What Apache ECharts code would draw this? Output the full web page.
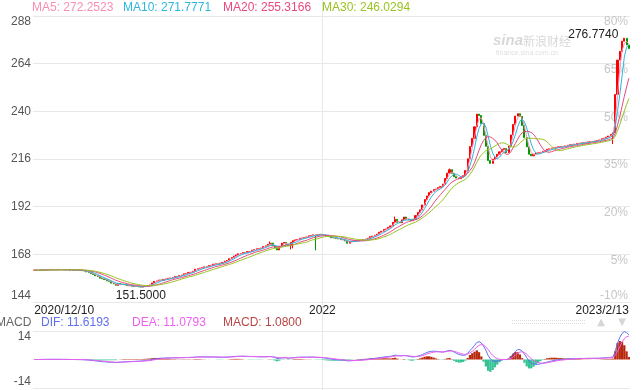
<!DOCTYPE html>
<html><head><meta charset="utf-8">
<script src="https://cdn.jsdelivr.net/npm/echarts@6/dist/echarts.min.js"></script>
<style>html,body{margin:0;padding:0;background:#fff}#c{width:643px;height:390px}</style>
</head><body><div id="c"></div>
<script>
// closing values, one per 2 trading days
const closes = [
160.0,160.1,159.9,160.2,160.1,160.3,160.2,160.4,160.2,160.3,
160.2,160.4,160.3,160.1,160.3,160.2,160.0,160.2,160.1,159.9,
160.0,159.8,159.6,159.1,158.9,158.3,157.9,157.2,156.9,156.0,
155.7,155.3,154.6,154.4,153.5,153.1,152.4,153.3,152.9,152.8,
152.6,152.2,152.3,151.9,151.8,151.9,151.6,151.5,151.9,152.0,
152.3,152.6,153.6,154.4,154.6,155.1,154.9,155.4,155.6,155.9,
156.1,156.3,156.9,156.8,157.3,157.6,158.2,158.3,158.9,159.0,
159.5,160.5,160.7,161.1,161.2,161.7,161.8,162.4,162.5,163.0,
163.2,163.1,163.6,163.9,164.6,164.9,165.8,166.4,167.1,167.7,
168.3,168.4,168.9,168.8,169.4,169.4,170.1,170.3,170.8,170.9,
171.2,171.9,172.3,173.1,173.6,172.4,171.5,170.2,172.1,173.6,
174.0,173.1,172.4,174.1,174.9,175.3,175.5,176.1,176.2,176.5,
176.7,177.3,177.5,177.8,177.4,177.9,178.1,177.8,177.5,177.2,
176.9,176.4,176.2,175.9,175.8,175.4,175.3,174.7,173.6,174.4,
174.6,174.9,174.8,175.0,175.2,175.3,175.7,176.1,176.9,177.2,
177.6,178.2,179.1,179.6,180.5,180.8,181.6,182.3,184.1,185.6,
184.1,183.9,185.4,186.8,185.7,185.3,184.9,185.6,187.5,189.1,
190.4,192.9,195.6,197.4,199.1,199.8,200.6,200.9,201.6,202.1,
203.4,206.2,208.9,210.6,208.8,207.1,206.4,206.1,206.9,207.6,
210.2,216.1,222.3,226.4,232.2,238.6,237.9,233.8,227.9,222.4,
215.2,213.8,215.9,217.0,218.4,219.6,220.8,221.3,219.2,222.5,
228.1,233.4,237.6,238.8,237.4,232.9,226.8,222.1,218.4,217.6,
218.4,218.9,219.1,219.4,219.9,220.2,220.9,221.1,221.5,221.6,
221.9,222.1,222.3,222.2,222.6,222.9,223.2,223.1,223.5,223.8,
223.9,224.1,224.0,224.4,224.6,224.8,224.7,225.1,225.3,225.6,
226.2,226.5,227.0,227.6,228.4,
229.2,248.5,265.8,270.2,275.3,276.774,273.4,271.6
];
const lowWicks = [[113,170.5],[114,171.0],[124,170.0],[255,223.5]];
const highWicks = [[104,174.5],[159,187.0],[183,211.2]];
const tickLabels = ['2020/12/10','2022','2023/2/13'];
const tickIndex = [0,127,262];
const maNames = ['MA5','MA10','MA20','MA30'];
const maValues = ['272.2523','271.7771','255.3166','246.0294'];
const maWindows = [3,5,10,15];
const macdNames = ['DIF','DEA','MACD'];
const macdValues = ['11.6193','11.0793','1.0800'];
const basePrice = 160;

const FONT = 'Liberation Sans, Arial, sans-serif';
const maColors = ['#f98fb5','#2cb6dc','#e8487c','#98c422'];
const macdColors = ['#5f6ff2','#ee5ff0','#b84545'];

const cats = closes.map((_, i) => String(i));
const candles = closes.map((c, i) => {
  const o = i ? closes[i-1] : c;
  return [o, c, Math.min(o, c), Math.max(o, c)];
});
lowWicks.forEach(([i, v]) => { candles[i][2] = v; });
highWicks.forEach(([i, v]) => { candles[i][3] = v; });

function ma(n) {
  return closes.map((_, i) => {
    const s = Math.max(0, i - n + 1);
    let t = 0; for (let k = s; k <= i; k++) t += closes[k];
    return +(t / (i - s + 1)).toFixed(3);
  });
}
function ema(arr, n) {
  const a = 2 / (n + 1); const out = []; let p = arr[0];
  arr.forEach(v => { p = p + a * (v - p); out.push(p); });
  return out;
}
const e1 = ema(closes, 6), e2 = ema(closes, 13);
const dif = closes.map((_, i) => e1[i] - e2[i]);
const dea = ema(dif, 5);
const hist = dif.map((d, i) => +(2 * (d - dea[i])).toFixed(3));

const chart = echarts.init(document.getElementById('c'), null, {renderer: 'canvas'});
const gridColor = '#e8e8e8';

const graphics = [];
const maX = [32, 123, 223, 322];
maNames.forEach((n, k) => {
  graphics.push({type: 'text', x: maX[k], y: 8, style: {text: n + ': ' + maValues[k], fill: maColors[k], font: '12px ' + FONT, verticalAlign: 'middle'}});
});
graphics.push({type: 'text', x: -4, y: 323, style: {text: 'MACD', fill: '#666', font: '12px ' + FONT, verticalAlign: 'middle'}});
const mX = [41, 132, 223];
macdNames.forEach((n, k) => {
  graphics.push({type: 'text', x: mX[k], y: 323, style: {text: n + ': ' + macdValues[k], fill: macdColors[k], font: '12px ' + FONT, verticalAlign: 'middle'}});
});
// watermark
graphics.push({type: 'text', x: 493, y: 41, style: {text: 'sina', fill: '#d8d8d8', font: 'italic bold 15px ' + FONT, verticalAlign: 'middle'}});
graphics.push({type: 'text', x: 523, y: 41, style: {text: '新浪财经', fill: '#d8d8d8', font: '12px Noto Sans CJK SC', verticalAlign: 'middle'}});
graphics.push({type: 'text', x: 496, y: 53, style: {text: 'finance.sina.com.cn', fill: '#e0e0e0', font: '7px ' + FONT, verticalAlign: 'middle'}});
// controls
graphics.push({type: 'line', shape: {x1: 512, y1: 320.5, x2: 586, y2: 320.5}, style: {stroke: '#dddddd', lineWidth: 1, lineDash: [1, 1]}});
graphics.push({type: 'line', shape: {x1: 512, y1: 323.5, x2: 586, y2: 323.5}, style: {stroke: '#dddddd', lineWidth: 1, lineDash: [1, 1]}});
graphics.push({type: 'text', x: 601, y: 322.5, style: {text: '▲', fill: '#d6d6d6', font: '10px DejaVu Sans', align: 'center', verticalAlign: 'middle'}});
graphics.push({type: 'text', x: 622, y: 322.5, style: {text: '▼', fill: '#d6d6d6', font: '10px DejaVu Sans', align: 'center', verticalAlign: 'middle'}});

const option = {
  animation: false,
  backgroundColor: '#fff',
  textStyle: {fontFamily: FONT},
  grid: [
    {left: 33, right: 13, top: 16, height: 286},
    {left: 33, right: 13, top: 331, height: 57}
  ],
  xAxis: [
    {type: 'category', gridIndex: 0, data: cats, boundaryGap: true,
     axisLine: {show: false}, axisTick: {show: false}, splitLine: {show: false},
     axisLabel: {interval: (i) => tickIndex.indexOf(i) >= 0,
       formatter: (v, i) => { const k = tickIndex.indexOf(+v); return k >= 0 ? tickLabels[k] : ''; },
       color: '#222', fontSize: 12, fontFamily: FONT, margin: 3,
       alignMinLabel: 'left', alignMaxLabel: 'right', hideOverlap: false}},
    {type: 'category', gridIndex: 1, data: cats, boundaryGap: true,
     axisLine: {show: false}, axisTick: {show: false}, axisLabel: {show: false}, splitLine: {show: false}}
  ],
  yAxis: [
    {type: 'value', gridIndex: 0, min: 144, max: 288, interval: 24, position: 'left',
     axisLine: {show: false}, axisTick: {show: false},
     splitLine: {show: true, lineStyle: {color: gridColor}},
     axisLabel: {color: '#555', fontSize: 12, fontFamily: FONT, margin: 2,
       verticalAlignMaxLabel: 'top', verticalAlignMinLabel: 'bottom'}},
    {type: 'value', gridIndex: 0, min: 144, max: 288, interval: 24, position: 'right',
     axisLine: {show: false}, axisTick: {show: false}, splitLine: {show: false},
     axisLabel: {inside: true, margin: 2, color: '#c6c6c6', fontSize: 12, fontFamily: FONT,
       formatter: (v) => Math.round((v - basePrice) / basePrice * 100) + '%',
       verticalAlign: 'top', verticalAlignMinLabel: 'bottom', verticalAlignMaxLabel: 'top'}},
    {type: 'value', gridIndex: 1, min: -14, max: 14, interval: 14,
     axisLine: {show: false}, axisTick: {show: false},
     splitLine: {show: true, lineStyle: {color: [gridColor, 'rgba(0,0,0,0)', gridColor]}},
     axisLabel: {color: '#555', fontSize: 12, fontFamily: FONT, margin: 2,
       formatter: (v) => v === 0 ? '' : String(v),
       verticalAlignMaxLabel: 'top', verticalAlignMinLabel: 'bottom'}}
  ],
  series: [
    {type: 'candlestick', name: 'K', xAxisIndex: 0, yAxisIndex: 0, data: candles, barWidth: '70%',
     itemStyle: {color: '#ff0000', color0: '#009900', borderColor: '#ff0000', borderColor0: '#009900', borderWidth: 1},
     markPoint: {symbol: 'circle', symbolSize: 0, silent: true,
       label: {show: true, color: '#222', fontSize: 12, fontFamily: FONT,
         formatter: (p) => Number(p.value).toFixed(4)},
       data: [
         {type: 'max', valueDim: 'highest', label: {position: 'left', distance: 6, offset: [0, -4]}},
         {type: 'min', valueDim: 'lowest', label: {position: 'bottom', distance: 3}}
       ]}},
    ...maWindows.map((n, k) => ({
      type: 'line', name: maNames[k], xAxisIndex: 0, yAxisIndex: 0, data: ma(n),
      symbol: 'none', smooth: false, lineStyle: {width: 1, color: maColors[k]}, itemStyle: {color: maColors[k]}
    })),
    {type: 'bar', name: 'MACD', xAxisIndex: 1, yAxisIndex: 2, data: hist, barWidth: '100%', barCategoryGap: 0,
     itemStyle: {color: (p) => p.value >= 0 ? '#b7280c' : '#33c293'}},
    {type: 'line', name: 'DIF', xAxisIndex: 1, yAxisIndex: 2, data: dif.map(v => +v.toFixed(3)), symbol: 'none',
     lineStyle: {width: 1, color: macdColors[0]}},
    {type: 'line', name: 'DEA', xAxisIndex: 1, yAxisIndex: 2, data: dea.map(v => +v.toFixed(3)), symbol: 'none',
     lineStyle: {width: 1, color: macdColors[1]}}
  ],
  graphic: graphics
};
chart.setOption(option);
const vx = Math.round(chart.convertToPixel({xAxisIndex: 0}, tickIndex[1])) + 0.5;
chart.setOption({graphic: graphics.concat([{type: 'line', z: -1, shape: {x1: vx, y1: 0, x2: vx, y2: 390}, style: {stroke: gridColor, lineWidth: 1}}])});
</script>
</body></html>
